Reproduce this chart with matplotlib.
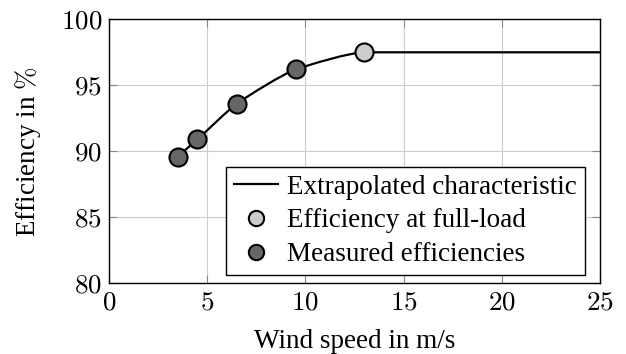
import numpy as np
import matplotlib
matplotlib.use("Agg")
import matplotlib.pyplot as plt
from matplotlib.path import Path
from matplotlib.patches import PathPatch
from matplotlib.lines import Line2D

plt.rcParams["font.family"] = ["Liberation Serif", "DejaVu Serif"]
plt.rcParams["mathtext.fontset"] = "cm"

# data
wind_measured = [3.5, 4.5, 6.5, 9.5]
eff_measured = [89.6, 90.9, 93.6, 96.2]
wind_full = [13.0]
eff_full = [97.5]
wind_max = 25.0  # characteristic stays flat up to cut-out

x_ticks = [0, 5, 10, 15, 20, 25]
y_ticks = [80, 85, 90, 95, 100]

FS = 19.5

fig = plt.figure(figsize=(6.26, 3.54), dpi=100)
ax = fig.add_axes([0.1741, 0.1997, 0.7843, 0.7458])

# extrapolated characteristic: smooth cubic through the points (bezier path),
# flat after full load
xs = np.array(wind_measured + wind_full + [wind_max])
ys = np.array(eff_measured + eff_full + [eff_full[0]])
h = np.diff(xs)
d = np.diff(ys) / h
m = np.zeros_like(xs)
m[0] = d[0]
m[-1] = d[-1]
for i in range(1, len(xs) - 1):
    if d[i - 1] * d[i] > 0:
        m[i] = 2 / (1 / d[i - 1] + 1 / d[i])
k = 0.6  # tension
verts = [(xs[0], ys[0])]
codes = [Path.MOVETO]
for i in range(len(xs) - 1):
    a = k * h[i] / 3
    verts += [(xs[i] + a, ys[i] + m[i] * a),
              (xs[i + 1] - a, ys[i + 1] - m[i + 1] * a),
              (xs[i + 1], ys[i + 1])]
    codes += [Path.CURVE4] * 3
ax.add_patch(PathPatch(Path(verts, codes), facecolor="none",
                       edgecolor="black", lw=1.6, zorder=3, clip_on=False))

ax.plot(wind_full, eff_full, "o", ms=13, mfc="#cccccc", mec="black",
        mew=1.5, zorder=4, clip_on=False)
ax.plot(wind_measured, eff_measured, "o", ms=13, mfc="#666666", mec="black",
        mew=1.5, zorder=4, clip_on=False)

ax.set_xlim(0, 25)
ax.set_ylim(80, 100)
ax.set_xticks(x_ticks)
ax.set_yticks(y_ticks)
ax.set_xticklabels([f"${t}$" for t in x_ticks], fontsize=FS)
ax.set_yticklabels([f"${t}$" for t in y_ticks], fontsize=FS)
ax.grid(True, color="#cccccc", lw=0.8)
ax.set_axisbelow(True)
ax.tick_params(direction="in", length=6, width=0.8, color="#888888",
               top=True, right=True, pad=5)
for s in ax.spines.values():
    s.set_linewidth(1.0)

ax.set_xlabel("Wind speed in m/s", fontsize=FS, labelpad=10)
ax.set_ylabel(r"Efficiency in $\%$", fontsize=FS, labelpad=13)

handles = [
    Line2D([], [], color="black", lw=1.6),
    Line2D([], [], ls="none", marker="o", ms=11, mfc="#cccccc", mec="black", mew=1.5),
    Line2D([], [], ls="none", marker="o", ms=11, mfc="#666666", mec="black", mew=1.5),
]
labels = ["Extrapolated characteristic", "Efficiency at full-load",
          "Measured efficiencies"]
leg = ax.legend(handles, labels, loc="lower right",
                bbox_to_anchor=(0.9695, 0.031), borderaxespad=0,
                fontsize=FS, fancybox=False, edgecolor="black", framealpha=1,
                borderpad=0.3, labelspacing=0.32, handlelength=1.6,
                handletextpad=0.35)
leg.get_frame().set_linewidth(1.0)

fig.savefig("out.png", dpi=100)
